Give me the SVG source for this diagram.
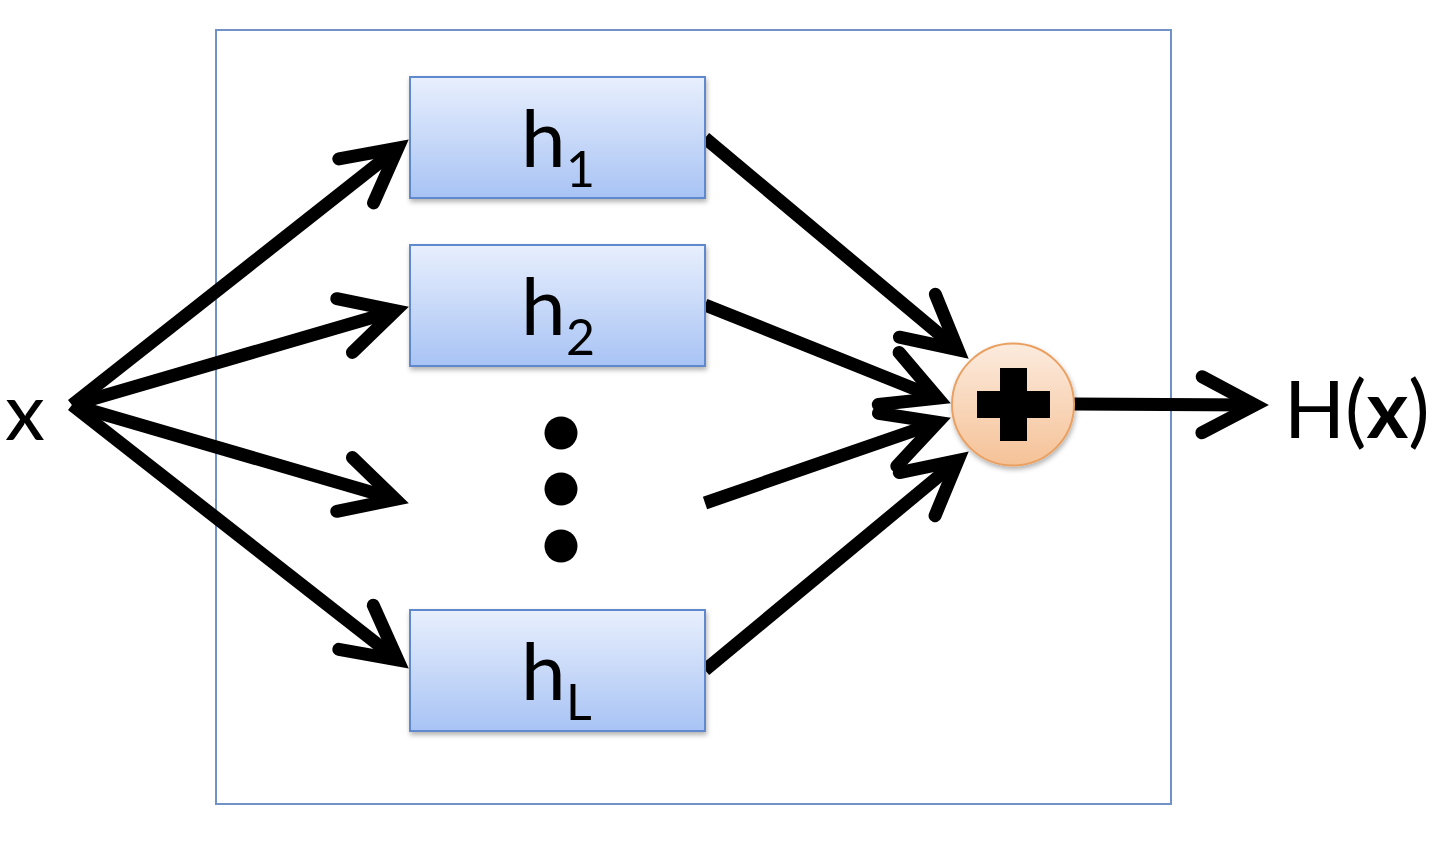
<svg xmlns="http://www.w3.org/2000/svg" width="1436" height="844" viewBox="0 0 1436 844">
<defs>
<linearGradient id="boxGrad" x1="0" y1="0" x2="0" y2="1">
<stop offset="0" stop-color="#e8effd"/>
<stop offset="1" stop-color="#a8c3f4"/>
</linearGradient>
<linearGradient id="sumGrad" x1="0" y1="0" x2="0" y2="1">
<stop offset="0" stop-color="#fcebde"/>
<stop offset="1" stop-color="#f5c297"/>
</linearGradient>
<filter id="shadow" x="-20%" y="-20%" width="140%" height="150%">
<feDropShadow dx="1" dy="3" stdDeviation="2.5" flood-color="#000" flood-opacity="0.3"/>
</filter>
<marker id="arrow" markerUnits="userSpaceOnUse" orient="auto" refX="0" refY="0" markerWidth="10" markerHeight="10" overflow="visible">
<path d="M-53,-28 L0,0 L-53,28" fill="none" stroke="#000" stroke-width="13" stroke-linecap="round" stroke-linejoin="miter" stroke-miterlimit="10"/>
</marker>
</defs>
<style>
.frame{fill:none;stroke:#7191c9;stroke-width:2}
.box{fill:url(#boxGrad);stroke:#5f88cd;stroke-width:2;filter:url(#shadow)}
.sum{fill:url(#sumGrad);stroke:#eaa061;stroke-width:2;filter:url(#shadow)}
.edge{fill:none;stroke:#000;stroke-width:13;stroke-linecap:butt;marker-end:url(#arrow)}
.lbl{font-family:Lato,"Open Sans","Liberation Sans",sans-serif;fill:#000}
.big{font-size:80px}
.sub{font-size:50px}
</style>
<rect class="frame" x="216" y="30" width="955" height="774"/>
<g id="connectors">
<path class="edge" d="M72,405 L397.8,148.1"/>
<path class="edge" d="M72,405 L395.5,310.7"/>
<path class="edge" d="M72,405 L395.5,499.3"/>
<path class="edge" d="M72,405 L397.8,660"/>
<path class="edge" d="M705,138 L958,349.7"/>
<path class="edge" d="M705,305 L937.9,398.2"/>
<path class="edge" d="M705,503 L937.7,422.3"/>
<path class="edge" d="M705,670 L958,460.3"/>
<path class="edge" d="M1074,404 L1255,405"/>
</g>
<g id="input-x">
<text class="lbl big" x="25" y="440" text-anchor="middle">x</text>
</g>
<g id="h1">
<rect class="box" x="410" y="77" width="295" height="121"/>
<text class="lbl big" x="521" y="167">h</text>
<text class="lbl sub" x="566" y="187">1</text>
</g>
<g id="h2">
<rect class="box" x="410" y="245" width="295" height="121"/>
<text class="lbl big" x="521" y="335">h</text>
<text class="lbl sub" x="566" y="355">2</text>
</g>
<g id="dots">
<circle cx="561" cy="433" r="16.5" fill="#000"/>
<circle cx="561" cy="489" r="16.5" fill="#000"/>
<circle cx="561" cy="546" r="16.5" fill="#000"/>
</g>
<g id="hL">
<rect class="box" x="410" y="610" width="295" height="121"/>
<text class="lbl big" x="521" y="700">h</text>
<text class="lbl sub" x="566" y="720">L</text>
</g>
<g id="sum">
<circle class="sum" cx="1013" cy="404.5" r="61"/>
<rect x="1000" y="368" width="27" height="73" fill="#000"/>
<rect x="977" y="391" width="73" height="27" fill="#000"/>
</g>
<g id="output">
<text class="lbl big" x="1284" y="438">H(<tspan font-weight="bold">x</tspan>)</text>
</g>
</svg>
